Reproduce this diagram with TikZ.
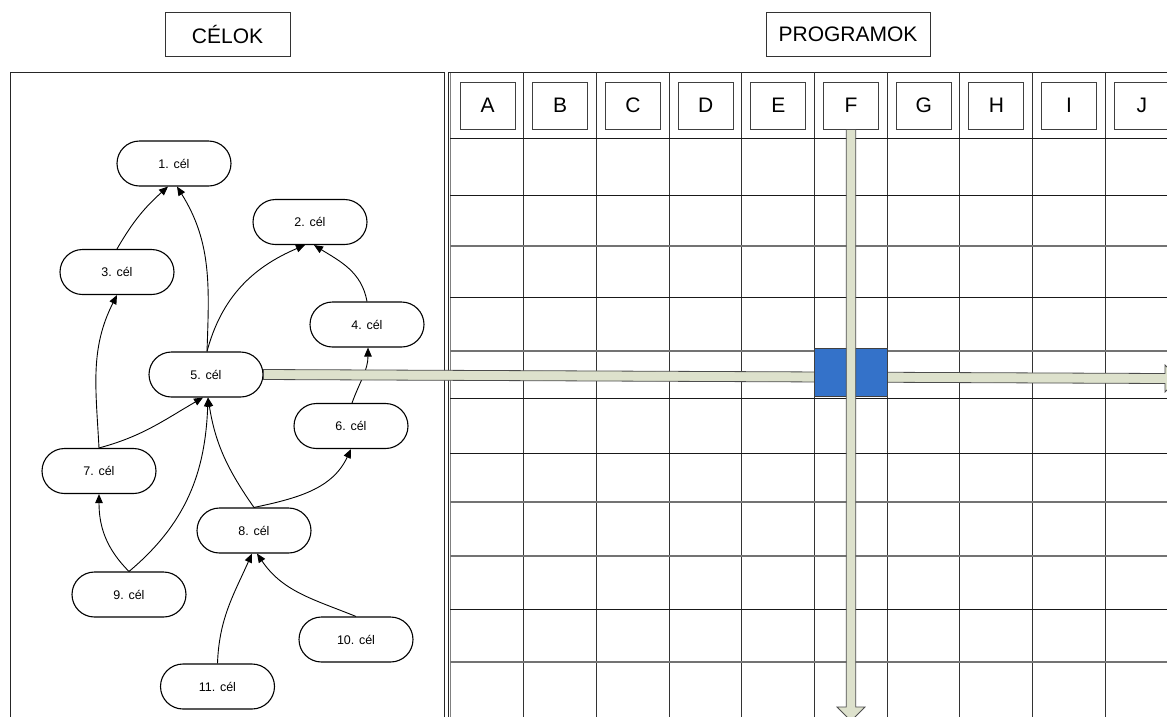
\documentclass[tikz,border=0pt]{standalone}
\usepackage{fontspec}
\setmainfont{Liberation Sans}
\usetikzlibrary{arrows.meta,calc}
\definecolor{barfill}{RGB}{221,225,204}
\definecolor{cellblue}{RGB}{52,114,201}
\tikzset{
  goal/.style={draw=black, line width=1.1pt, fill=white, rounded corners=22.5pt,
    minimum width=114pt, minimum height=45pt, inner sep=0pt,
    font=\fontsize{12.5}{14}\selectfont},
  titlebox/.style={draw=black!80, line width=0.9pt, minimum height=44pt, inner sep=0pt,
    font=\fontsize{21}{24}\selectfont},
  colhead/.style={draw=black!75, line width=0.9pt, minimum width=55pt, minimum height=47pt,
    inner sep=0pt, font=\fontsize{21}{24}\selectfont},
  link/.style={line width=0.9pt, -{Triangle[length=9pt,width=7.5pt]}},
  bar/.style={draw=black!70, line width=0.8pt, fill=barfill},
  gridblack/.style={line width=1pt, draw=black!90},
  gridgrey/.style={line width=1.2pt, draw=black!55},
  panel/.style={line width=1pt, draw=black!85},
}
\begin{document}
\begin{tikzpicture}[x=1pt,y=1pt]
\useasboundingbox (0,0) rectangle (1167,-716);
\fill[white] (0,0) rectangle (1167,-716);
\clip (0,0) rectangle (1167,-716);

% titles
\node[titlebox, minimum width=125pt] (tC) at (227.5,-34) {CÉLOK};
\node[titlebox, minimum width=164pt] (tP) at (848,-34) {PROGRAMOK};

% left panel
\draw[panel] (10,-72) rectangle (444,-730);

% right panel frame
\draw[panel] (448,-72) -- (448,-730);
\draw[line width=1pt, black!50] (450.5,-72) -- (450.5,-730);
\draw[panel] (448,-72) -- (1170,-72);

% grid verticals
\foreach \i in {1,...,9} {
  \draw[line width=1.1pt, black!80] ({451+72.7*\i},-72) -- ({451+72.7*\i},-730);
}
% grid horizontals
\foreach \y in {138,195,297,398,453,609} {
  \draw[gridblack] (450,-\y) -- (1170,-\y);
}
\foreach \y in {246,351,502,556,662} {
  \draw[gridgrey] (450,-\y) -- (1170,-\y);
}

% column heads
\foreach \l [count=\i from 0] in {A,B,C,D,E,F,G,H,I,J} {
  \node[colhead] (h\l) at ({451+72.7*\i+36.5},-105.5) {\l};
}

% goal nodes
\node[goal] (n1) at (174,-163.5) {1. cél};
\node[goal] (n2) at (310,-222) {2. cél};
\node[goal] (n3) at (117,-272) {3. cél};
\node[goal] (n4) at (367,-324.5) {4. cél};
\node[goal] (n5) at (206,-374.5) {5. cél};
\node[goal] (n6) at (351,-426) {6. cél};
\node[goal] (n7) at (99,-471) {7. cél};
\node[goal] (n8) at (254,-530.5) {8. cél};
\node[goal] (n9) at (129,-594.5) {9. cél};
\node[goal] (n10) at (356,-639.5) {10. cél};
\node[goal] (n11) at (217.5,-686.5) {11. cél};

% links
\draw[link] (n3.north) to[out=60,in=222] ([xshift=-6pt]n1.south);
\draw[link] ([xshift=1pt]n5.north) to[out=88,in=-58] ([xshift=3pt]n1.south);
\draw[link] ([xshift=1pt]n5.north) to[out=75,in=203] ([xshift=-5pt]n2.south);
\draw[link] (n4.north) to[out=100,in=-32] ([xshift=4pt]n2.south);
\draw[link] ([xshift=1pt]n6.north) to[out=70,in=-90] ([xshift=1pt]n4.south);
\draw[link] (n7.north) to[out=93,in=-117] (n3.south);
\draw[link] (n7.north) to[out=15,in=210] ([xshift=-3pt]n5.south);
\draw[link] (n9.north) to[out=135,in=-90] (n7.south);
\draw[link] (n9.north) to[out=40,in=-92] ([xshift=2pt]n5.south);
\draw[link] (n8.north) to[out=125,in=-81] ([xshift=2pt]n5.south);
\draw[link] (n8.north) to[out=12,in=-115] (n6.south);
\draw[link] (n11.north) to[out=88,in=-114] ([xshift=-2pt]n8.south);
\draw[link] (n10.north) to[out=158,in=-56] ([xshift=3pt]n8.south);

% horizontal arrow from 5. cel
\coordinate (hend) at (1178,-378.5);
\draw[bar] ([yshift=5pt]n5.east) -- (1165,-373.5) -- (1165,-365) -- (hend)
  -- (1165,-392) -- (1165,-383.5) -- ([yshift=-5pt]n5.east) -- cycle;

% blue cell
\draw[fill=cellblue, draw=black!75, line width=1pt] (814.5,-348) rectangle (887.2,-396);

% vertical arrow from column F
\coordinate (vend) at (851,-721);
\draw[bar] ([xshift=-4.7pt]hF.south) -- (846.3,-707) -- (837,-707) -- (vend)
  -- (865,-707) -- (855.7,-707) -- ([xshift=4.7pt]hF.south) -- cycle;
\end{tikzpicture}
\end{document}
